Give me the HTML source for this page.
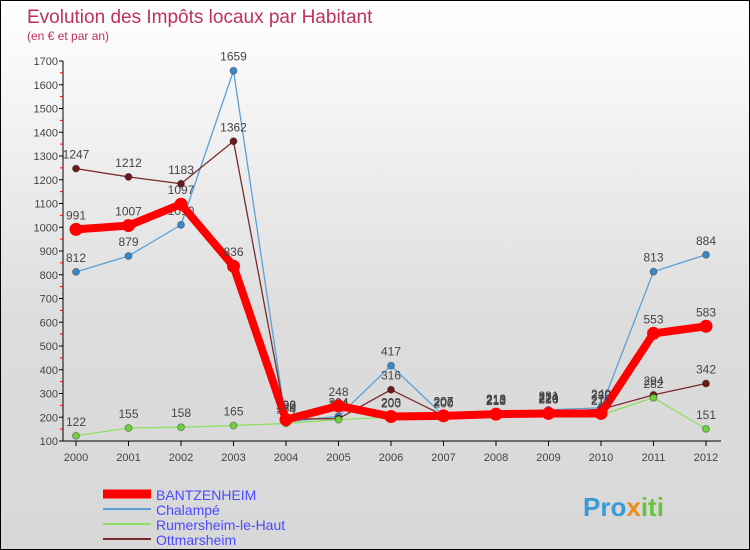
<!DOCTYPE html>
<html><head><meta charset="utf-8"><style>
body{margin:0}
#c{width:748px;height:548px;border:1px solid #000;background:linear-gradient(#fff,#dcdcdc 60%,#d8d8d8);position:relative;font-family:"Liberation Sans",sans-serif;overflow:hidden}
</style></head><body>
<div id="c">
<svg id="s" width="748" height="548" xmlns="http://www.w3.org/2000/svg">
<text x="26" y="22" font-size="19" fill="#c0305e">Evolution des Impôts locaux par Habitant</text>
<text x="26" y="39" font-size="12" fill="#c0305e">(en € et par an)</text>
<g id="ax"></g><g id="ser"></g>
<g>
<line x1="102" y1="493" x2="150" y2="493" stroke="#f00" stroke-width="9"/>
<text x="155" y="499" font-size="14" fill="#4a4aff">BANTZENHEIM</text>
<line x1="102" y1="508" x2="150" y2="508" stroke="#5aa0d8" stroke-width="2"/>
<text x="155" y="514" font-size="14" fill="#4a4aff">Chalampé</text>
<line x1="102" y1="523" x2="150" y2="523" stroke="#90e060" stroke-width="2"/>
<text x="155" y="529" font-size="14" fill="#4a4aff">Rumersheim-le-Haut</text>
<line x1="102" y1="538" x2="150" y2="538" stroke="#7a2a2a" stroke-width="2"/>
<text x="155" y="544" font-size="14" fill="#4a4aff">Ottmarsheim</text>
</g>
<text x="582" y="515" font-size="26" font-weight="bold" fill="#3a9ad8">Pro<tspan fill="#f08a1a">x</tspan><tspan fill="#6ac040">iti</tspan></text>
</svg></div>
<script>
const years=[2000,2001,2002,2003,2004,2005,2006,2007,2008,2009,2010,2011,2012];
const yTicks=[100,200,300,400,500,600,700,800,900,1000,1100,1200,1300,1400,1500,1600,1700];
const bantzenheim=[991,1007,1097,836,190,248,203,206,213,216,216,553,583];
const chalampe=[812,879,1010,1659,180,204,417,207,218,231,240,813,884];
const rumersheim=[122,155,158,165,174,190,200,200,210,220,210,282,151];
const ottmarsheim=[1247,1212,1183,1362,192,194,316,207,212,224,233,294,342];
const NS='http://www.w3.org/2000/svg';
const X=i=>75+i*52.5, Y=v=>440-(v-100)*0.2375;
function mk(t,a,p){const e=document.createElementNS(NS,t);for(const k in a)e.setAttribute(k,a[k]);p.appendChild(e);return e;}
const ax=document.getElementById('ax'),ser=document.getElementById('ser');
let l=mk('line',{x1:62,y1:Y(100),x2:720,y2:Y(100),stroke:'#000'},ax);

l=mk('line',{x1:62,y1:Y(1700),x2:62,y2:Y(100),stroke:'#000'},ax);

yTicks.forEach((v,i)=>{
 mk('line',{x1:58,y1:Y(v),x2:62,y2:Y(v),stroke:'#000'},ax);
 if(i<yTicks.length-1)mk('line',{x1:59,y1:Y(v+50),x2:62,y2:Y(v+50),stroke:'#f00'},ax);
 const t=mk('text',{x:57,y:Y(v)+4,'font-size':11,'text-anchor':'end',fill:'#444'},ax);t.textContent=v;
 
});
years.forEach((y,i)=>{
 mk('line',{x1:X(i),y1:Y(100),x2:X(i),y2:Y(100)+5,stroke:'#000'},ax);
 const t=mk('text',{x:X(i),y:Y(100)+20,'font-size':11,'text-anchor':'middle',fill:'#444'},ax);t.textContent=y;
 
});
function series(d,name,col,w,r,lab){
 const g=mk('g',{},ser);
 const p=mk('polyline',{points:d.map((v,i)=>X(i)+','+Y(v)).join(' '),fill:'none',stroke:col,'stroke-width':w,'stroke-linejoin':'round'},g);
 
 d.forEach((v,i)=>{
  const c=mk('circle',{cx:X(i),cy:Y(v),r:r,fill:lab,stroke:w>3?'#f00':'rgba(0,0,0,0.3)','stroke-width':w>3?3:1},g);
  
  const t=mk('text',{x:X(i),y:Y(v)-10,'font-size':12,'text-anchor':'middle',fill:'#444'},g);t.textContent=v;
  
 });
}
series(chalampe,'chalampe','#5aa0d8',1.3,3.5,'#3a88c8');
series(ottmarsheim,'ottmarsheim','#7a2a2a',1.3,3.5,'#6a1a1a');
series(rumersheim,'rumersheim','#90e060',1.3,3.5,'#70d040');
series(bantzenheim,'bantzenheim','#f00',8,5,'#f00');
</script>
</body></html>
